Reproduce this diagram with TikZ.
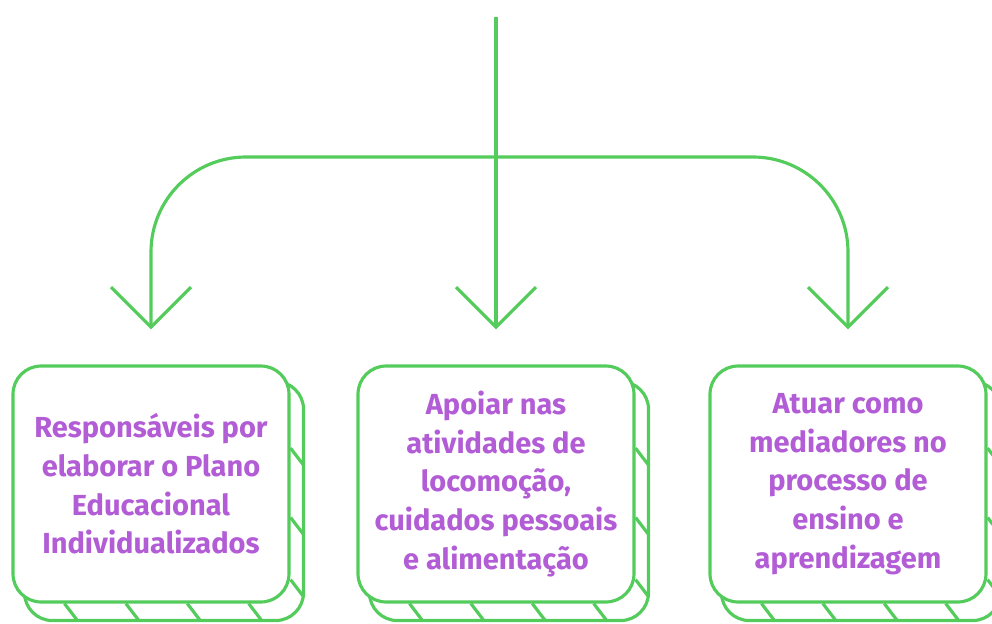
\documentclass[tikz,border=0pt]{standalone}
\usepackage{fontspec}
\setmainfont{Fira Sans}
\usepackage{tikz}
\usetikzlibrary{arrows.meta,backgrounds,calc}
\definecolor{leaf}{RGB}{84,204,92}
\definecolor{orchid}{RGB}{178,92,214}

\begin{document}
\begin{tikzpicture}[x=0.02cm,y=-0.02cm,
  card/.style={draw=leaf,line width=1.8pt,fill=white,rounded corners=0.56cm,
    minimum width=5.52cm,minimum height=4.72cm,align=center,text=orchid,
    font=\bfseries\fontsize{16.5}{22}\selectfont},
  sheet/.style={draw=leaf,line width=1.8pt,fill=white,rounded corners=0.56cm},
  flow/.style={draw=leaf,line width=1.8pt,rounded corners=1.9cm,shorten >=0.7cm,
    -{Straight Barb[length=0.8cm,width=1.6cm]}}]

\useasboundingbox (0,0) rectangle (992,623);

% cards
\node[card] (c1) at (151,484) {Responsáveis por\\elaborar o Plano\\Educacional\\Individualizados};
\node[card] (c2) at (496,484) {Apoiar nas\\atividades de\\locomoção,\\cuidados pessoais\\e alimentação};
\node[card] (c3) at (848,484) {Atuar como\\mediadores no\\processo de\\ensino e\\aprendizagem};

% stacked sheets behind the cards
\begin{scope}[on background layer]
\foreach \c in {c1,c2,c3} {
  \draw[sheet] ([shift={(13,17)}]\c.north west) rectangle ([shift={(13,17)}]\c.south east);
  \foreach \t in {0.19,0.41,0.63,0.85}
    \draw[leaf,line width=1.8pt] ($(\c.south west)!\t!(\c.south east)$) -- ++(13,17);
  \foreach \t in {0.35,0.64,0.9}
    \draw[leaf,line width=1.8pt] ($(\c.north east)!\t!(\c.south east)$) -- ++(13,17);
}
\end{scope}

% arrows
\coordinate (top) at (496,17);
\coordinate (hub) at (496,157);
\draw[flow] (top) -- (c2.north);
\draw[flow] (hub) -| (c1.north);
\draw[flow] (hub) -| (c3.north);

\end{tikzpicture}
\end{document}
